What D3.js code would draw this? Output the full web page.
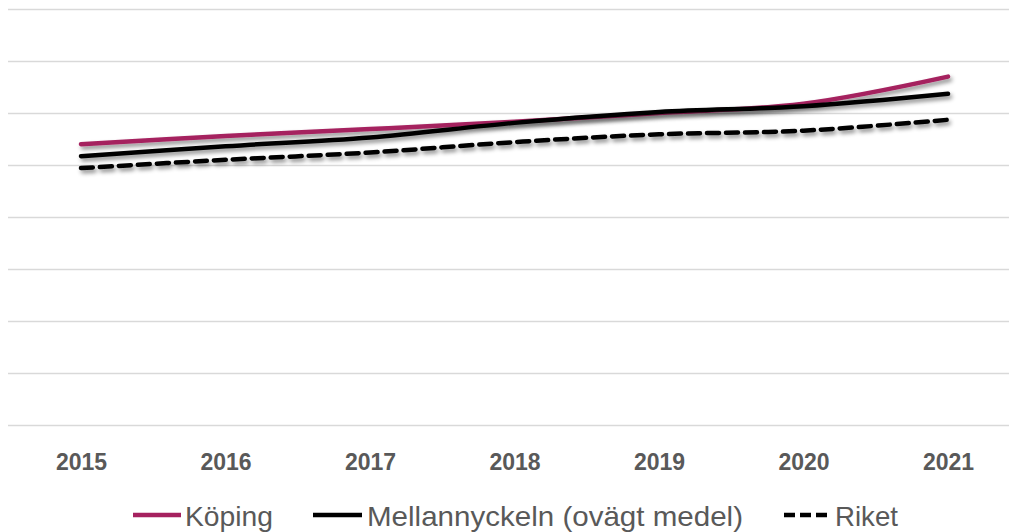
<!DOCTYPE html>
<html>
<head>
<meta charset="utf-8">
<script src="https://cdn.jsdelivr.net/npm/d3@7"></script>
<style>
  html, body { margin: 0; padding: 0; background: #fff; }
  svg { display: block; }
</style>
</head>
<body>
<div id="chart"></div>
<script>
// data (no y labels in the original, arbitrary units)
var years = ['2015', '2016', '2017', '2018', '2019', '2020', '2021'];
var koping = [54.0, 55.6, 56.9, 58.3, 60.0, 61.8, 67.0];
var mellan = [51.7, 53.6, 55.3, 58.1, 60.2, 61.3, 63.7];
var riket = [49.4, 51.0, 52.4, 54.4, 55.9, 56.6, 58.7];
var seriesNames = ['Köping', 'Mellannyckeln (ovägt medel)', 'Riket'];

var width = 1009, height = 532;

var svg = d3.select('#chart').
    append('svg').
    attr('width', width).
    attr('height', height);

var defs = svg.append('defs');
defs.append('filter').
    attr('id', 'shadow').
    attr('x', '-5%').attr('y', '-50%').
    attr('width', '110%').attr('height', '200%').
    append('feDropShadow').
    attr('dx', 2).attr('dy', 3).
    attr('stdDeviation', 2).
    attr('flood-color', '#000').
    attr('flood-opacity', 0.45);

var x = d3.scalePoint().domain(years).range([81, 948]);
var y = d3.scaleLinear().domain([0, 80]).range([425, 9]);

// gridlines
svg.append('g').
    selectAll('line').
    data(y.ticks(8)).
    enter().
    append('line').
    attr('x1', 8).attr('x2', width).
    attr('y1', function(d) { return Math.round(y(d)) + 0.5; }).
    attr('y2', function(d) { return Math.round(y(d)) + 0.5; }).
    attr('stroke', '#d9d9d9').
    attr('stroke-width', 1.5);

// x axis labels
var xAxis = svg.append('g').
    attr('transform', 'translate(0,' + 448 + ')').
    call(d3.axisBottom(x).tickSize(0).tickPadding(0));
xAxis.select('.domain').remove();
xAxis.selectAll('text').
    attr('dy', null).
    attr('y', 22).
    style('font-family', '"Liberation Sans", Arial, sans-serif').
    style('font-weight', 'bold').
    style('font-size', '23px').
    style('fill', '#595959');

var line = d3.line().
    x(function(d, i) { return x(years[i]); }).
    y(function(d) { return y(d); }).
    curve(d3.curveCatmullRom.alpha(0.5));

var series = [
    {name: seriesNames[0], values: koping, color: '#a5215f', dash: null},
    {name: seriesNames[1], values: mellan, color: '#000000', dash: null},
    {name: seriesNames[2], values: riket, color: '#000000', dash: '12,7'}
];

// draw riket first, then köping, black mellannyckeln on top
[series[2], series[0], series[1]].forEach(function(s) {
    svg.append('path').
        datum(s.values).
        attr('d', line).
        attr('fill', 'none').
        attr('stroke', s.color).
        attr('stroke-width', 4.5).
        attr('stroke-linecap', 'round').
        attr('stroke-dasharray', s.dash).
        attr('filter', 'url(#shadow)');
});

// legend
var legendItems = [
    {s: series[0], x0: 133, x1: 181, tx: 185, w: 88},
    {s: series[1], x0: 313, x1: 362, tx: 367, w: 376},
    {s: series[2], x0: 784, x1: 830, tx: 835, w: 63}
];
var legend = svg.append('g');
legendItems.forEach(function(it) {
    legend.append('line').
        attr('x1', it.x0).attr('x2', it.x1).
        attr('y1', 515).attr('y2', 515).
        attr('stroke', it.s.color).
        attr('stroke-width', 4.5).
        attr('stroke-dasharray', it.s.dash ? '11,5' : null);
    legend.append('text').
        attr('x', it.tx).
        attr('y', 526).
        attr('textLength', it.w).
        attr('lengthAdjust', 'spacingAndGlyphs').
        text(it.s.name).
        style('font-family', '"Liberation Sans", Arial, sans-serif').
        style('font-size', '28px').
        style('fill', '#595959');
});
</script>
</body>
</html>
